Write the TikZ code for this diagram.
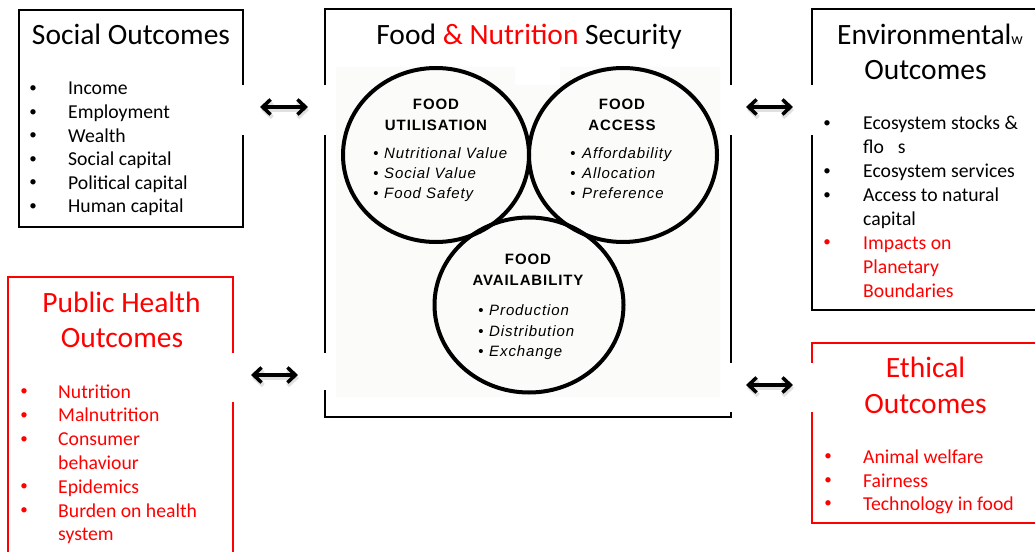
\documentclass[tikz,border=0pt]{standalone}
\usepackage{fontspec}
\setmainfont{Carlito}
\newfontfamily\circfont[LetterSpace=6]{Liberation Sans}
\usetikzlibrary{arrows.meta,shapes.geometric}
\definecolor{ored}{RGB}{255,0,0}
\definecolor{bgc}{RGB}{251,251,249}
\begin{document}
\begin{tikzpicture}[x=1bp,y=-1bp,
  box/.style={draw,line width=2.2bp,anchor=north west,outer sep=0,inner sep=0},
  redbox/.style={box,draw=ored},
  circ/.style={draw,ellipse,line width=4bp,outer sep=0,inner sep=0},
  itm/.style={anchor=base west,inner sep=0,font=\fontsize{19.7bp}{23.6bp}\selectfont},
  bul/.style={anchor=base,inner sep=0,font=\fontsize{15bp}{23.6bp}\selectfont,yshift=2.5bp},
  head/.style={anchor=base,inner sep=0,font=\fontsize{29.5bp}{35bp}\selectfont},
  ctitle/.style={anchor=base,inner sep=0,font=\circfont\bfseries\fontsize{15bp}{18bp}\selectfont},
  citm/.style={anchor=base west,inner sep=0,font=\circfont\itshape\fontsize{15bp}{18bp}\selectfont},
  cbul/.style={anchor=base,inner sep=0,font=\circfont\fontsize{15bp}{18bp}\selectfont},
  gap/.style={fill=white,draw=none},
  dbl/.style={{Straight Barb[length=8bp,width=15bp]}-{Straight Barb[length=8bp,width=15bp]},line width=3.5bp},
  shad/.style={dbl,draw=black,opacity=0.12,line width=4.5bp}
]
\useasboundingbox (0,0) rectangle (1035,552);
\clip (0,0) rectangle (1035,552);

% background of the circle picture
\fill[bgc] (336,67) -- (515,67) -- (515,85) -- (560,85) -- (560,67) -- (720,67)
  -- (720,397) -- (336,397) -- cycle;

% boxes
\node[box,minimum width=224bp,minimum height=217bp] (social) at (19,10) {};
\node[box,minimum width=406bp,minimum height=408bp] (centre) at (325,9) {};
\node[box,minimum width=233bp,minimum height=301bp] (env) at (812,9) {};
\node[redbox,minimum width=225bp,minimum height=290bp] (health) at (8,277) {};
\node[redbox,minimum width=233bp,minimum height=180bp] (ethic) at (812,343) {};

% circles
\node[circ,minimum width=186bp,minimum height=174bp] (util) at (436,155) {};
\node[circ,minimum width=188bp,minimum height=174bp] (access) at (623,155) {};
\node[circ,minimum width=189bp,minimum height=175bp] (avail) at (529,305) {};

% gaps behind arrows
\fill[gap] (237,85) rectangle (331,135);
\fill[gap] (725,85) rectangle (819,135);
\fill[gap] (227,353) rectangle (239,402);
\fill[gap] (319,353) rectangle (331,390);
\fill[gap] (725,363) rectangle (819,412);

% arrows
\coordinate (a1l) at (260,107); \coordinate (a1r) at (308,107);
\coordinate (a2l) at (746,107); \coordinate (a2r) at (793,107);
\coordinate (a3l) at (251,375); \coordinate (a3r) at (298,375);
\coordinate (a4l) at (746,385); \coordinate (a4r) at (793,385);
\foreach \p in {1,2,3,4}{
  \draw[shad] ([shift={(1,3)}]a\p l) -- ([shift={(1,3)}]a\p r);
  \draw[dbl] (a\p l) -- (a\p r);
}

% headings
\node[head] (socialT) at (131,45) {Social Outcomes};
\node[head] (centreT) at (529,45) {Food {\color{ored}\& Nutrition} Security};
\node[head,anchor=base west] (envT1) at (837,45) {Environmental{\fontsize{16bp}{16bp}\selectfont w}};
\node[head] (envT2) at (925.5,80) {Outcomes};
\node[head,text=ored] (healthT1) at (121.5,313) {Public Health};
\node[head,text=ored] (healthT2) at (122,348) {Outcomes};
\node[head,text=ored] (ethicT1) at (925.5,378) {Ethical};
\node[head,text=ored] (ethicT2) at (925.5,413) {Outcomes};

% social list
\foreach \t [count=\i from 0] in {Income,Employment,Wealth,Social capital,Political capital,Human capital}{
  \node[bul] (sb\i) at (33,{95+23.6*\i}) {•};
  \node[itm] (si\i) at (68,{95+23.6*\i}) {\t};
}

% environmental list
\node[bul] (eb0) at (827,130) {•};
\node[itm] (ei0) at (863,130) {Ecosystem stocks \&};
\node[itm] (ei1) at (863,153.9) {flo\hspace{14bp}s};
\node[bul] (eb2) at (827,177.8) {•};
\node[itm] (ei2) at (863,177.8) {Ecosystem services};
\node[bul] (eb3) at (827,201.7) {•};
\node[itm] (ei3) at (863,201.7) {Access to natural};
\node[itm] (ei4) at (863,225.6) {capital};
\node[bul,text=ored] (eb5) at (827,249.5) {•};
\node[itm,text=ored] (ei5) at (863,249.5) {Impacts on};
\node[itm,text=ored] (ei6) at (863,273.4) {Planetary};
\node[itm,text=ored] (ei7) at (863,297.3) {Boundaries};

% public health list
\begin{scope}[every node/.append style={text=ored}]
\node[bul] (hb0) at (24,398) {•};
\node[itm] (hi0) at (58,398) {Nutrition};
\node[bul] (hb1) at (24,421.8) {•};
\node[itm] (hi1) at (58,421.8) {Malnutrition};
\node[bul] (hb2) at (24,445.6) {•};
\node[itm] (hi2) at (58,445.6) {Consumer};
\node[itm] (hi3) at (58,469.4) {behaviour};
\node[bul] (hb4) at (24,493.2) {•};
\node[itm] (hi4) at (58,493.2) {Epidemics};
\node[bul] (hb5) at (24,517) {•};
\node[itm] (hi5) at (58,517) {Burden on health};
\node[itm] (hi6) at (58,540.8) {system};

% ethical list
\node[bul] (xb0) at (828,463) {•};
\node[itm] (xi0) at (863,463) {Animal welfare};
\node[bul] (xb1) at (828,487) {•};
\node[itm] (xi1) at (863,487) {Fairness};
\node[bul] (xb2) at (828,510) {•};
\node[itm] (xi2) at (863,510) {Technology in food};
\end{scope}

% circle texts
\node[ctitle] (uT1) at (436,110) {FOOD};
\node[ctitle] (uT2) at (436,131) {UTILISATION};
\foreach \t [count=\i from 0] in {Nutritional Value,Social Value,Food Safety}{
  \node[cbul] (ub\i) at (376,{159+20*\i}) {•};
  \node[citm] (ui\i) at (384,{159+20*\i}) {\t};
}
\node[ctitle] (aT1) at (622,110) {FOOD};
\node[ctitle] (aT2) at (622,131) {ACCESS};
\foreach \t [count=\i from 0] in {Affordability,Allocation,Preference}{
  \node[cbul] (ab\i) at (573,{159+20*\i}) {•};
  \node[citm] (ai\i) at (582,{159+20*\i}) {\t};
}
\node[ctitle] (vT1) at (528,265) {FOOD};
\node[ctitle] (vT2) at (528,286) {AVAILABILITY};
\foreach \t [count=\i from 0] in {Production,Distribution,Exchange}{
  \node[cbul] (vb\i) at (481,{316+20.5*\i}) {•};
  \node[citm] (vi\i) at (489,{316+20.5*\i}) {\t};
}
\end{tikzpicture}
\end{document}
